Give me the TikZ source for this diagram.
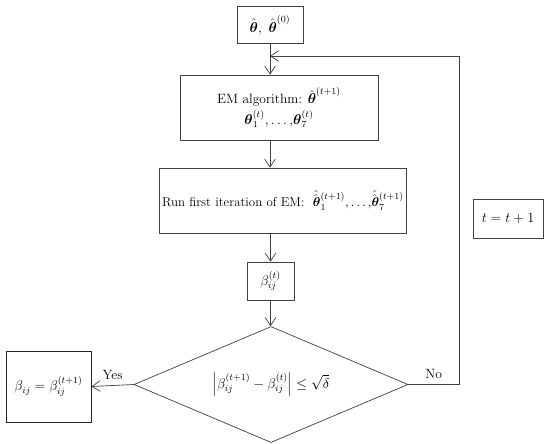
\documentclass[tikz,border=0pt]{standalone}
\usepackage{amsfonts, amsmath, amssymb}
\usepackage{tikz}
\usetikzlibrary{shapes.geometric, arrows.meta, positioning}

\begin{document}
\begin{tikzpicture}[
    x=0.03cm, y=-0.03cm,
    every node/.style={font=\fontsize{11.5}{14}\selectfont},
    process/.style={rectangle, draw=black!75, line width=0.6pt, text centered, inner sep=2pt},
    decision/.style={diamond, aspect=2.36, draw=black!75, line width=0.6pt, text centered, inner sep=0pt, minimum width=8.22cm, minimum height=3.48cm},
    arrow/.style={draw=black!75, line width=0.6pt, -{Straight Barb[length=2.4mm, width=3.2mm]}}
]
\useasboundingbox (0,0) rectangle (550,444);

\node (init) [process, minimum width=1.98cm, minimum height=1.11cm] at (270,25) {$\hat{\boldsymbol{\theta}},\ \hat{\boldsymbol{\theta}}^{(0)}$};
\node (em) [process, align=center, minimum width=5.94cm, minimum height=1.95cm] at (279,107.5) {EM algorithm: $\hat{\boldsymbol{\theta}}^{(t+1)}$\\[2pt] $\boldsymbol{\theta}_1^{(t)}{,}\ldots{,}\boldsymbol{\theta}_7^{(t)}$};
\node (run) [process, font=\fontsize{11}{13}\selectfont, minimum width=7.38cm, minimum height=1.95cm] at (283,200.5) {Run first iteration of EM:\ \ $\hat{\hat{\boldsymbol{\theta}}}_1^{(t+1)}{,}\ldots{,}\hat{\hat{\boldsymbol{\theta}}}_7^{(t+1)}$};
\node (beta) [process, minimum width=1.41cm, minimum height=1.14cm] at (270.5,281) {$\beta_{ij}^{(t)}$};
\node (check) [decision] at (271,384.5) {$\left|\beta_{ij}^{(t+1)}-\beta_{ij}^{(t)}\right|\le\sqrt{\delta}$};
\node (result) [process, line width=0.8pt, draw=black!85, minimum width=2.55cm, minimum height=2.13cm] at (48.5,386.5) {$\beta_{ij}=\beta_{ij}^{(t+1)}$};
\node (incr) [process, minimum width=2.1cm, minimum height=1.17cm] at (508,218.5) {$t=t+1$};

% loop back corner
\coordinate (back) at (459,56);
\coordinate (join) at (270,56);

\draw [arrow] (init.south) -- (init.south |- em.north);
\draw [arrow] (init.south |- em.south) -- (init.south |- run.north);
\draw [arrow] (beta |- run.south) -- (beta);
\draw [arrow] (beta) -- (beta |- check.north);
\draw [arrow] (check.west) -- node[above, yshift=1pt] {Yes} (result.east);
\draw [arrow] (check.east) -- node[above, yshift=1pt] {No} (check.east -| back) -- (back) -- (join);

\end{tikzpicture}
\end{document}
